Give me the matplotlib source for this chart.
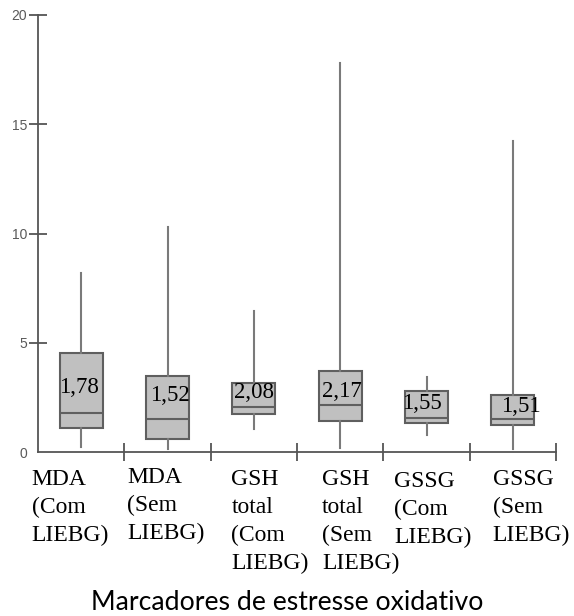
import matplotlib
matplotlib.use("Agg")
import matplotlib.pyplot as plt

# ---- data ----
categories = ["MDA\n(Com\nLIEBG)", "MDA\n(Sem\nLIEBG)", "GSH\ntotal\n(Com\nLIEBG)",
              "GSH\ntotal\n(Sem\nLIEBG)", "GSSG\n(Com\nLIEBG)", "GSSG\n(Sem\nLIEBG)"]
whisker_low = [0.21, 0.12, 1.04, 0.17, 0.76, 0.12]
q1 = [1.11, 0.58, 1.74, 1.43, 1.34, 1.24]
medians = [1.78, 1.52, 2.08, 2.17, 1.55, 1.51]
q3 = [4.52, 3.48, 3.14, 3.71, 2.79, 2.62]
whisker_high = [8.18, 10.31, 6.44, 17.79, 3.43, 14.25]
yticks = [0, 5, 10, 15, 20]
xlabel = "Marcadores de estresse oxidativo"

# ---- layout (label placement tweaks) ----
label_dx = [-0.575, -0.465, -0.26, -0.21, -0.375, -0.235]
label_top_px = [470, 468, 470, 470, 472, 470]
annot_y = [2.93, 2.58, 2.71, 2.79, 2.24, 2.07]
annot_dx = [-0.02, 0.03, 0.0, 0.02, -0.05, 0.09]

W, H = 574, 616
fig = plt.figure(figsize=(W / 100, H / 100), dpi=100)
ax = fig.add_axes([38 / W, 1 - 452 / H, (556 - 38) / W, (452 - 15) / H])

stats = []
for i in range(len(categories)):
    stats.append(dict(whislo=whisker_low[i], q1=q1[i], med=medians[i],
                      q3=q3[i], whishi=whisker_high[i], fliers=[]))

edge = "#5f5f5f"
ax.bxp(stats, positions=list(range(len(categories))), widths=0.5,
       patch_artist=True, showcaps=False, showfliers=False,
       boxprops=dict(facecolor="#c0c0c0", edgecolor=edge, linewidth=1.5),
       medianprops=dict(color=edge, linewidth=1.5),
       whiskerprops=dict(color="#7a7a7a", linewidth=1.5))

ax.set_xlim(-0.5, len(categories) - 0.5)
ax.set_ylim(0, 20)

for s in ["top", "right"]:
    ax.spines[s].set_visible(False)
for s in ["left", "bottom"]:
    ax.spines[s].set_color("#555555")
    ax.spines[s].set_linewidth(1.3)

ax.set_yticks(yticks)
ax.set_yticklabels([str(v) for v in yticks])
ax.tick_params(axis="y", direction="inout", length=13, width=1.3, color="#555555",
               labelsize=10, labelcolor="#5a5a5a", pad=1.5)
ax.yaxis.get_major_ticks()[0].tick1line.set_visible(False)
for t in ax.get_yticklabels():
    t.set_family(["Liberation Sans", "DejaVu Sans"])

ax.set_xticks([i + 0.5 for i in range(len(categories))])
ax.set_xticklabels([])
ax.tick_params(axis="x", direction="inout", length=13, width=1.3, color="#555555")

serif = ["Liberation Serif", "DejaVu Serif"]
for i, m in enumerate(medians):
    ax.text(i + annot_dx[i], annot_y[i], f"{m:.2f}".replace(".", ","),
            ha="center", va="center", fontsize=16.5, family=serif, color="black")

for i, lab in enumerate(categories):
    yfrac = 1 - label_top_px[i] / H
    fig.text((38 + (i + 0.5 + label_dx[i]) * (556 - 38) / 6) / W, yfrac + 1 / H, lab,
             ha="left", va="top", fontsize=17, family=serif, linespacing=1.42)

fig.text(287 / W, 1 - 609.5 / H, xlabel, ha="center", va="baseline",
         fontsize=19.2, family=["Lato", "DejaVu Sans"])

fig.savefig("out.png", dpi=100)
